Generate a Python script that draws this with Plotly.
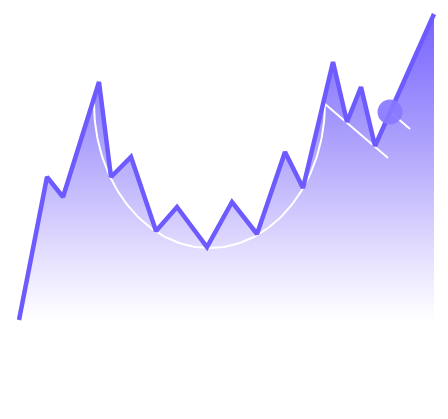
import numpy as np
import plotly.graph_objects as go

# price path (x position, value above the baseline)
price_x = [19, 47, 63, 99, 111, 131, 156, 177, 207, 232, 257, 285, 303, 333, 347, 361, 375, 434]
price_y = [0, 143, 123, 238, 143, 163, 89, 113, 73, 118, 86, 168, 132, 258, 198, 233, 174, 306]

# cup outline: rim left/right, rim level, floor level
cup_x = [94, 325]
cup_rim = 217
cup_floor = 72

# handle channel lines
handle_low_x = [325, 388]
handle_low_y = [216, 162]
handle_high_x = [361, 410]
handle_high_y = [233, 191]

# breakout marker
marker_x = [390]
marker_y = [208]

PURPLE = "#6e5bff"

fig = go.Figure()

# gradient area under the price
fig.add_trace(go.Scatter(
    x=price_x, y=price_y,
    mode="lines",
    fill="tozeroy",
    fillgradient=dict(
        type="vertical",
        colorscale=[[0, "#ffffff"], [0.23, "#e2dcfe"], [0.56, "#b0a5fc"], [1, "#7662ff"]],
        start=0, stop=306,
    ),
    line=dict(width=0),
    hoverinfo="skip",
))

# cup (lower half of an ellipse between the two rims)
t = np.linspace(np.pi, 2 * np.pi, 120)
cx = (cup_x[0] + cup_x[1]) / 2
rx = (cup_x[1] - cup_x[0]) / 2
ry = cup_rim - cup_floor
fig.add_trace(go.Scatter(
    x=cx + rx * np.cos(t), y=cup_rim + ry * np.sin(t),
    mode="lines", line=dict(color="white", width=2),
    hoverinfo="skip",
))

for hx, hy in [(handle_low_x, handle_low_y), (handle_high_x, handle_high_y)]:
    fig.add_trace(go.Scatter(
        x=hx, y=hy, mode="lines",
        line=dict(color="white", width=2),
        hoverinfo="skip",
    ))

# price line
fig.add_trace(go.Scatter(
    x=price_x, y=price_y,
    mode="lines",
    line=dict(color=PURPLE, width=4.5),
    hoverinfo="skip",
))

fig.add_trace(go.Scatter(
    x=marker_x, y=marker_y,
    mode="markers",
    marker=dict(size=25, color="rgba(136,120,255,0.92)", line=dict(width=0)),
    hoverinfo="skip",
))

# the page body adds an 8px offset, so the axes are shifted to compensate
fig.update_layout(
    width=448, height=419,
    margin=dict(l=0, r=0, t=0, b=0),
    paper_bgcolor="white", plot_bgcolor="white",
    showlegend=False,
    xaxis=dict(range=[8, 456], visible=False, fixedrange=True),
    yaxis=dict(range=[-107, 312], visible=False, fixedrange=True),
)

fig.write_html("out.html")
